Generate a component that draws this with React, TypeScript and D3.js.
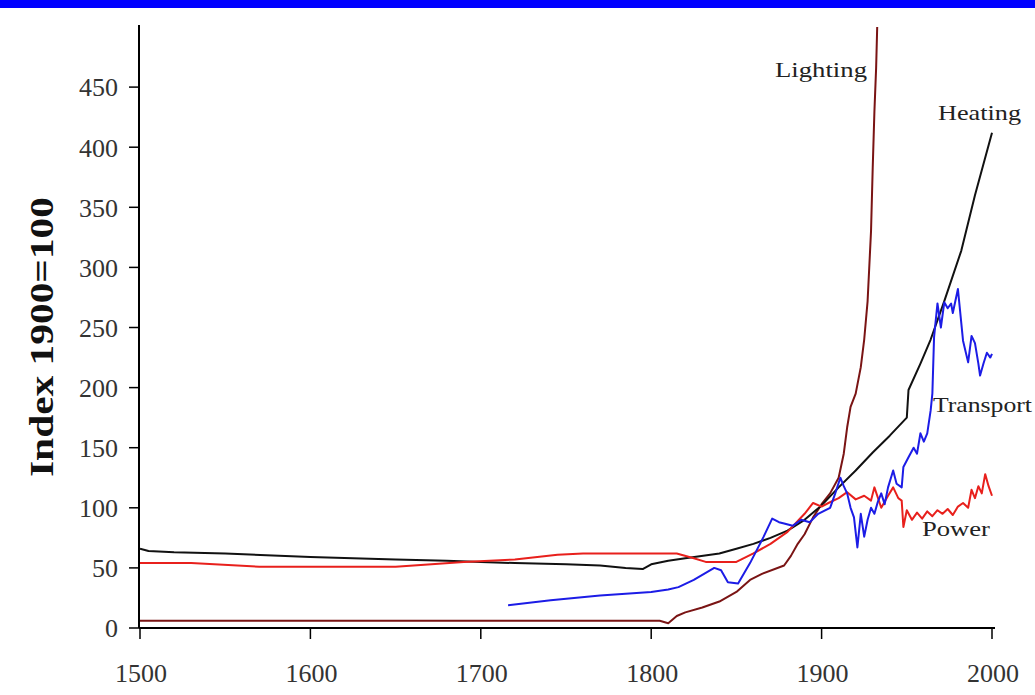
import React from "react";
import * as d3 from "d3";

const xTicks = [1500, 1600, 1700, 1800, 1900, 2000];
const yTicks = [0, 50, 100, 150, 200, 250, 300, 350, 400, 450];

const heatingYears = [1500, 1505, 1520, 1550, 1600, 1650, 1680, 1700, 1720, 1750, 1770, 1785, 1795, 1800, 1810, 1820, 1840, 1850, 1860, 1870, 1880, 1890, 1900, 1910, 1920, 1930, 1940, 1950, 1951, 1958, 1964, 1972, 1982, 1990, 2000];
const heatingValues = [66, 64, 63, 62, 59, 57, 56, 55, 54, 53, 52, 50, 49, 53, 56, 58, 62, 66, 70, 75, 81, 90, 102, 117, 131, 146, 160, 175, 198, 220, 240, 272, 314, 360, 412];

const powerYears = [1500, 1530, 1570, 1650, 1690, 1720, 1745, 1760, 1800, 1815, 1825, 1832, 1850, 1860, 1870, 1880, 1890, 1895, 1900, 1904, 1910, 1915, 1920, 1925, 1929, 1931, 1935, 1939, 1942, 1945, 1947, 1948, 1950, 1953, 1956, 1959, 1962, 1965, 1968, 1971, 1974, 1977, 1980, 1983, 1986, 1988, 1990, 1992, 1994, 1996, 1998, 2000];
const powerValues = [54, 54, 51, 51, 55, 57, 61, 62, 62, 62, 58, 55, 55, 62, 70, 80, 95, 104, 101, 104, 108, 113, 107, 110, 106, 117, 100, 110, 117, 108, 106, 84, 98, 90, 96, 91, 97, 93, 98, 95, 99, 94, 101, 104, 100, 115, 108, 118, 112, 128, 118, 110];

const lightingYears = [1500, 1800, 1805, 1810, 1815, 1820, 1830, 1840, 1850, 1858, 1865, 1878, 1882, 1886, 1890, 1895, 1900, 1905, 1910, 1913, 1915, 1917, 1920, 1923, 1925, 1927, 1929, 1930, 1931, 1932, 1933];
const lightingValues = [6, 6, 6, 4, 10, 13, 17, 22, 30, 40, 45, 52, 60, 70, 78, 92, 103, 112, 125, 145, 167, 184, 195, 217, 240, 272, 330, 383, 430, 466, 520];

const transportYears = [1716, 1741, 1770, 1800, 1810, 1816, 1825, 1837, 1841, 1845, 1851, 1858, 1866, 1871, 1875, 1878, 1883, 1888, 1893, 1898, 1905, 1908, 1911, 1913, 1915, 1917, 1919, 1921, 1923, 1925, 1927, 1929, 1931, 1933, 1935, 1937, 1939, 1942, 1944, 1947, 1948, 1951, 1954, 1956, 1958, 1960, 1962, 1964, 1965, 1966, 1968, 1970, 1972, 1974, 1976, 1977, 1980, 1983, 1986, 1988, 1990, 1992, 1993, 1995, 1997, 1999, 2000];
const transportValues = [19, 23, 27, 30, 32, 34, 40, 50, 48, 38, 37, 54, 76, 91, 88, 87, 85, 90, 88, 95, 100, 112, 125, 118, 112, 100, 92, 67, 95, 76, 90, 100, 95, 105, 112, 103, 117, 131, 120, 117, 134, 142, 150, 145, 162, 155, 162, 181, 195, 242, 270, 250, 271, 266, 270, 262, 282, 239, 221, 243, 237, 220, 210, 220, 229, 225, 228];

const seriesLabels = ["Lighting", "Heating", "Transport", "Power"];

const W = 1035;
const H = 695;

export default function App() {
  const x = d3.scaleLinear().domain([1500, 2000]).range([140, 992]);
  const y = d3.scaleLinear().domain([0, 500]).range([628, 27]);

  const mk = (ys: number[], vs: number[]) =>
    d3
      .line<number>()
      .x((_, i) => x(ys[i]))
      .y((v) => y(v))(vs) || "";

  const series = [
    { d: mk(lightingYears, lightingValues), color: "#7a1414" },
    { d: mk(heatingYears, heatingValues), color: "#111111" },
    { d: mk(powerYears, powerValues), color: "#e8201c" },
    { d: mk(transportYears, transportValues), color: "#1c1ce6" },
  ];

  const labelPos = [
    { x: 775, y: 77, len: 92 },
    { x: 938, y: 120, len: 83 },
    { x: 933, y: 412, len: 99 },
    { x: 922, y: 536, len: 68 },
  ];

  return (
    <svg
      width={W}
      height={H}
      style={{ position: "absolute", left: 0, top: 0, background: "#fff" }}
      fontFamily="'Liberation Serif', 'Times New Roman', serif"
    >
      <rect x={0} y={0} width={W} height={H} fill="#fff" />
      <rect x={0} y={0} width={W} height={8} fill="#0000ff" />
      <defs>
        <clipPath id="plot">
          <rect x={x(1500)} y={y(500)} width={x(2000) - x(1500) + 10} height={y(0) - y(500)} />
        </clipPath>
      </defs>

      {/* axes */}
      <line x1={x(1500) - 1} x2={x(1500) - 1} y1={25} y2={y(0)} stroke="#000" strokeWidth={2} />
      <line x1={x(1500) - 1} x2={x(2000) + 3} y1={y(0)} y2={y(0)} stroke="#000" strokeWidth={2} />
      {yTicks.map((t) => (
        <g key={"y" + t}>
          <line x1={x(1500) - 11} x2={x(1500) - 1} y1={y(t)} y2={y(t)} stroke="#000" strokeWidth={1.5} />
          <text x={118} y={y(t)} dy="0.36em" textAnchor="end" fontSize={26} fill="#333">
            {t}
          </text>
        </g>
      ))}
      {xTicks.map((t) => (
        <g key={"x" + t}>
          <line x1={x(t)} x2={x(t)} y1={y(0)} y2={y(0) + 11} stroke="#000" strokeWidth={1.5} />
          <text x={x(t) + 1} y={682} textAnchor="middle" fontSize={26} fill="#333">
            {t}
          </text>
        </g>
      ))}

      <text
        transform={`translate(53,337) rotate(-90)`}
        textAnchor="middle"
        fontSize={33}
        fontWeight="bold"
        textLength={280}
        lengthAdjust="spacingAndGlyphs"
        fill="#111"
      >
        Index 1900=100
      </text>

      <g clipPath="url(#plot)" fill="none" strokeWidth={2} strokeLinejoin="round">
        {series.map((s, i) => (
          <path key={i} d={s.d} stroke={s.color} />
        ))}
      </g>

      {seriesLabels.map((l, i) => (
        <text
          key={l}
          x={labelPos[i].x}
          y={labelPos[i].y}
          fontSize={21}
          fill="#222"
          textLength={labelPos[i].len}
          lengthAdjust="spacingAndGlyphs"
        >
          {l}
        </text>
      ))}
    </svg>
  );
}
